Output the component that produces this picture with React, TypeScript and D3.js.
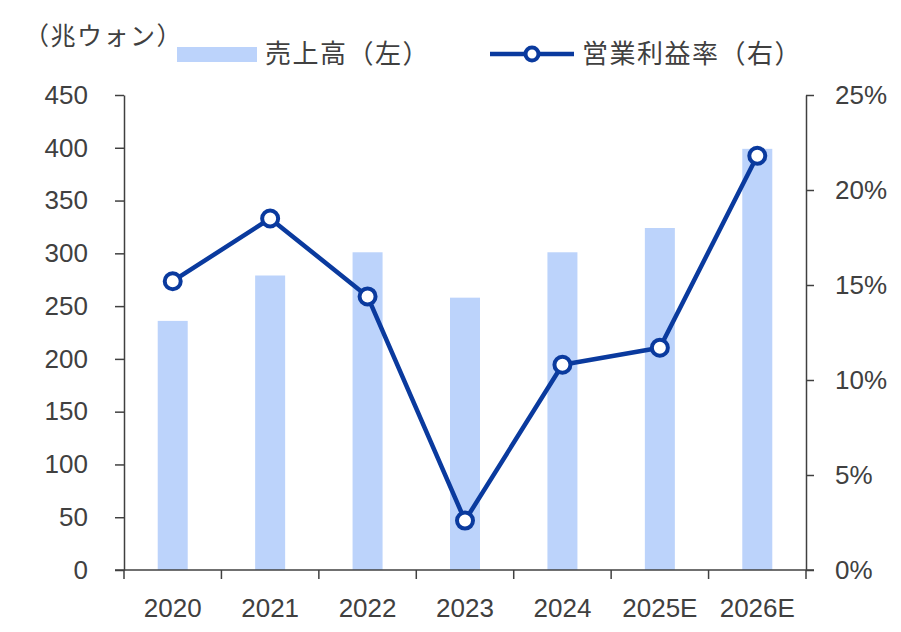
import * as d3 from 'd3';
import React, { useEffect, useRef } from 'react';

const categories = ['2020', '2021', '2022', '2023', '2024', '2025E', '2026E'];
const sales = [236, 279, 301, 258, 301, 324, 399];
const margin = [15.2, 18.5, 14.4, 2.6, 10.8, 11.7, 21.8];
const leftTicks = [0, 50, 100, 150, 200, 250, 300, 350, 400, 450];
const rightTicks = [0, 5, 10, 15, 20, 25];

const JP = '"Noto Sans CJK JP", "Noto Sans", sans-serif';
const NUM = '"Liberation Sans", Arial, sans-serif';
const BAR = '#bcd3fb';
const LINE = '#0a3a9e';
const INK = '#404040';

const App: React.FC = () => {
  const svgRef = useRef<SVGSVGElement | null>(null);

  useEffect(() => {
    const width = 901;
    const height = 632;
    const m = { top: 95, right: 95, bottom: 62, left: 124 };
    const svg = d3.select(svgRef.current);
    svg.selectAll('*').remove();
    svg.attr('width', width).attr('height', height).style('display', 'block');

    const x = d3
      .scaleBand()
      .domain(categories)
      .range([m.left, width - m.right]);

    const y = d3
      .scaleLinear()
      .domain([0, 450])
      .range([height - m.bottom, m.top]);

    const y2 = d3
      .scaleLinear()
      .domain([0, 25])
      .range([height - m.bottom, m.top]);

    const y0 = height - m.bottom;
    const barW = 30;

    // bars
    svg
      .append('g')
      .selectAll('rect')
      .data(sales)
      .join('rect')
      .attr('x', (_, i) => x(categories[i])! + x.bandwidth() / 2 - barW / 2)
      .attr('width', barW)
      .attr('y', (d) => y(d))
      .attr('height', (d) => y0 - y(d))
      .attr('fill', BAR);

    // left axis
    const gl = svg
      .append('g')
      .attr('transform', `translate(${m.left},0)`)
      .call(d3.axisLeft(y).tickValues(leftTicks).tickSize(9).tickSizeOuter(0).tickPadding(27));
    gl.select('.domain').attr('stroke', INK).attr('stroke-width', 1.5);
    gl.selectAll('line').attr('stroke', INK).attr('stroke-width', 1.5);
    gl.selectAll('text').attr('font-family', NUM).attr('font-size', 26).attr('fill', INK);

    // right axis
    const gr = svg
      .append('g')
      .attr('transform', `translate(${width - m.right},0)`)
      .call(
        d3
          .axisRight(y2)
          .tickValues(rightTicks)
          .tickSize(8)
          .tickSizeOuter(0)
          .tickPadding(21)
          .tickFormat((d) => `${d}%`),
      );
    gr.select('.domain').attr('stroke', INK).attr('stroke-width', 1.5);
    gr.selectAll('line').attr('stroke', INK).attr('stroke-width', 1.5);
    gr.selectAll('text').attr('font-family', NUM).attr('font-size', 26).attr('fill', INK);

    // bottom axis
    const gb = svg.append('g').attr('transform', `translate(0,${y0})`);
    gb.append('line')
      .attr('x1', m.left - 9)
      .attr('x2', width - m.right + 8)
      .attr('stroke', INK)
      .attr('stroke-width', 1.5);
    const bounds = categories.map((c) => x(c)!).concat([x.range()[1]]);
    gb.selectAll('line.tk')
      .data(bounds)
      .join('line')
      .attr('class', 'tk')
      .attr('x1', (d) => d)
      .attr('x2', (d) => d)
      .attr('y1', 0)
      .attr('y2', 9)
      .attr('stroke', INK)
      .attr('stroke-width', 1.5);
    gb.selectAll('text')
      .data(categories)
      .join('text')
      .attr('x', (d) => x(d)! + x.bandwidth() / 2)
      .attr('y', 47)
      .attr('text-anchor', 'middle')
      .attr('font-family', NUM)
      .attr('font-size', 26)
      .attr('fill', INK)
      .text((d) => d);

    // line series
    const line = d3
      .line<number>()
      .x((_, i) => x(categories[i])! + x.bandwidth() / 2)
      .y((d) => y2(d));
    svg
      .append('path')
      .datum(margin)
      .attr('fill', 'none')
      .attr('stroke', LINE)
      .attr('stroke-width', 4.5)
      .attr('stroke-linejoin', 'round')
      .attr('d', line);
    svg
      .append('g')
      .selectAll('circle')
      .data(margin)
      .join('circle')
      .attr('cx', (_, i) => x(categories[i])! + x.bandwidth() / 2)
      .attr('cy', (d) => y2(d))
      .attr('r', 8)
      .attr('fill', '#fff')
      .attr('stroke', LINE)
      .attr('stroke-width', 4);

    // unit label
    svg
      .append('text')
      .attr('x', 24)
      .attr('y', 45)
      .attr('font-family', JP)
      .attr('font-size', 25)
      .attr('letter-spacing', 1.5)
      .attr('fill', INK)
      .text('（兆ウォン）');

    // legend
    const lg = svg.append('g');
    lg.append('rect').attr('x', 177).attr('y', 47).attr('width', 80).attr('height', 15).attr('fill', BAR);
    lg.append('text')
      .attr('x', 265)
      .attr('y', 63)
      .attr('font-family', JP)
      .attr('font-size', 26)
      .attr('letter-spacing', 1.5)
      .attr('fill', INK)
      .text('売上高（左）');
    lg.append('line')
      .attr('x1', 490)
      .attr('x2', 574)
      .attr('y1', 54)
      .attr('y2', 54)
      .attr('stroke', LINE)
      .attr('stroke-width', 4.5);
    lg.append('circle')
      .attr('cx', 532)
      .attr('cy', 54)
      .attr('r', 6.5)
      .attr('fill', '#fff')
      .attr('stroke', LINE)
      .attr('stroke-width', 4);
    lg.append('text')
      .attr('x', 582)
      .attr('y', 63)
      .attr('font-family', JP)
      .attr('font-size', 26)
      .attr('letter-spacing', 1.5)
      .attr('fill', INK)
      .text('営業利益率（右）');
  }, []);

  return (
    <div style={{ width: 901, height: 632, margin: -8, background: '#fff' }}>
      <svg ref={svgRef}></svg>
    </div>
  );
};

export default App;
